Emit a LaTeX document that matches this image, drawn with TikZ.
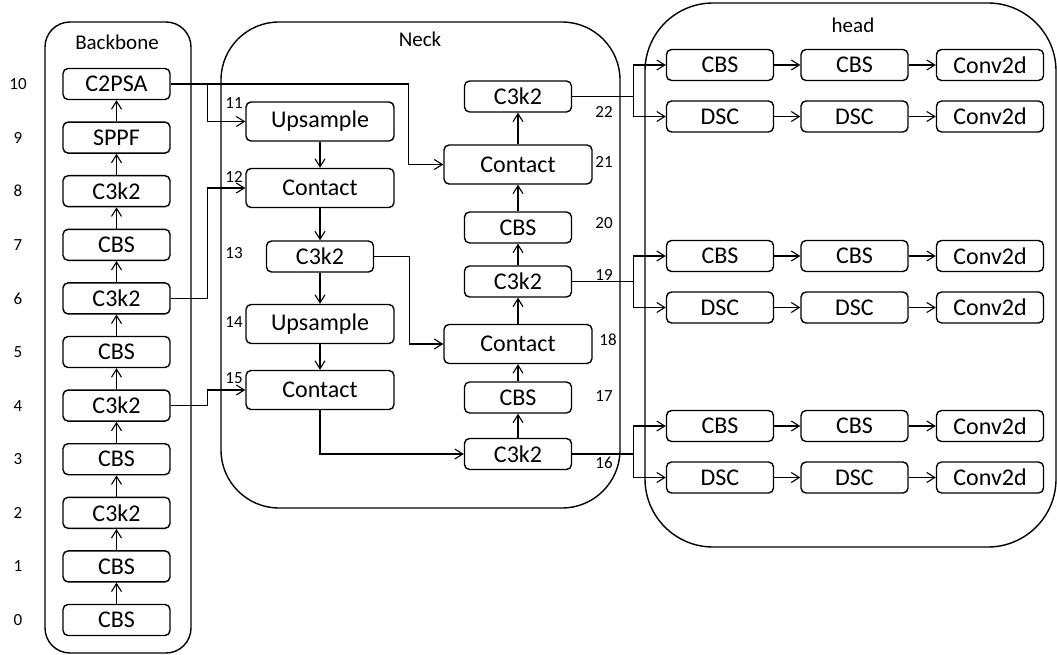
\documentclass[tikz,border=0pt]{standalone}
\usepackage{fontspec}
\setmainfont{Carlito}
\usetikzlibrary{positioning,arrows.meta}

\begin{document}
\begin{tikzpicture}[
  x=1pt, y=-1pt,
  font=\fontsize{24}{26}\selectfont,
  box/.style={draw, rounded corners=5pt, line width=1.4pt, minimum width=107pt, minimum height=31pt, inner sep=0pt},
  wide/.style={box, minimum width=148pt, minimum height=39pt},
  proc/.style={draw, line width=1.4pt, inner sep=0pt},
  arr/.style={-{Straight Barb[length=8pt,width=10pt,line width=1.1pt]}, line width=1.3pt},
  lin/.style={line width=1.3pt},
  num/.style={font=\fontsize{17}{18}\selectfont},
  ttl/.style={font=\fontsize{21}{22}\selectfont}
]
\useasboundingbox (0,0) rectangle (1057,655);
% Containers
\node[proc, rounded corners=25pt, minimum width=146pt, minimum height=631pt] (bb) at (118,337.5) {};
\node[proc, rounded corners=58pt, minimum width=399pt, minimum height=486pt] (nk) at (420.5,265) {};
\node[proc, rounded corners=68pt, minimum width=411pt, minimum height=544pt] (hd) at (850.5,275) {};
\node[ttl] (bbt) at (117,42) {Backbone};
\node[ttl] (nkt) at (420,39) {Neck};
\node[ttl] (hdt) at (853,25) {head};
% Backbone
\node[box] (b0)  at (116.5,620)   {CBS};
\node[box] (b1)  at (116.5,566.4) {CBS};
\node[box] (b2)  at (116.5,512.8) {C3k2};
\node[box] (b3)  at (116.5,459.2) {CBS};
\node[box] (b4)  at (116.5,405.6) {C3k2};
\node[box] (b5)  at (116.5,352)   {CBS};
\node[box] (b6)  at (116.5,298.4) {C3k2};
\node[box] (b7)  at (116.5,244.8) {CBS};
\node[box] (b8)  at (116.5,191.2) {C3k2};
\node[box] (b9)  at (116.5,137.6) {SPPF};
\node[box] (b10) at (116.5,84)    {C2PSA};
\node[num] (l0)  at (18,620)   {0};
\node[num] (l1)  at (18,566.4) {1};
\node[num] (l2)  at (18,512.8) {2};
\node[num] (l3)  at (18,459.2) {3};
\node[num] (l4)  at (18,405.6) {4};
\node[num] (l5)  at (18,352)   {5};
\node[num] (l6)  at (18,298.4) {6};
\node[num] (l7)  at (18,244.8) {7};
\node[num] (l8)  at (18,191.2) {8};
\node[num] (l9)  at (18,137.6) {9};
\node[num] (l10) at (18,84)    {10};
\draw[arr] (b0) -- (b1);
\draw[arr] (b1) -- (b2);
\draw[arr] (b2) -- (b3);
\draw[arr] (b3) -- (b4);
\draw[arr] (b4) -- (b5);
\draw[arr] (b5) -- (b6);
\draw[arr] (b6) -- (b7);
\draw[arr] (b7) -- (b8);
\draw[arr] (b8) -- (b9);
\draw[arr] (b9) -- (b10);
% Neck
\node[wide] (n11) at (320,121.5) {Upsample};
\node[wide] (n12) at (320,188)   {Contact};
\node[box]  (n13) at (320,256.5) {C3k2};
\node[wide] (n14) at (320,324)   {Upsample};
\node[wide] (n15) at (320,390)   {Contact};
\node[box]  (n16) at (518,454)   {C3k2};
\node[box]  (n17) at (518,397.5) {CBS};
\node[wide] (n18) at (518,344)   {Contact};
\node[box]  (n19) at (518,281.5) {C3k2};
\node[box]  (n20) at (518,227.5) {CBS};
\node[wide] (n21) at (518,164.5) {Contact};
\node[box]  (n22) at (518,96.5)  {C3k2};
\node[num] (l11) at (234,103) {11};
\node[num] (l12) at (234,177) {12};
\node[num] (l13) at (234,253) {13};
\node[num] (l14) at (234,322) {14};
\node[num] (l15) at (234,378) {15};
\node[num] (l22) at (604,112) {22};
\node[num] (l21) at (604,162) {21};
\node[num] (l20) at (604,223) {20};
\node[num] (l19) at (604,275) {19};
\node[num] (l18) at (608,340) {18};
\node[num] (l17) at (604,396) {17};
\node[num] (l16) at (604,463) {16};
\draw[arr] (b10.east) -- ++(238,0) |- (n21.west);
\draw[arr] (b10.east) -- ++(37,0) |- (n11.west);
\draw[arr] (b6.east) -- ++(37,0) |- (n12.west);
\draw[arr] (b4.east) -- ++(37,0) |- (n15.west);
\draw[arr] (n11) -- (n12);
\draw[arr] (n12) -- (n13);
\draw[arr] (n13) -- (n14);
\draw[arr] (n14) -- (n15);
\draw[arr] (n13.east) -- ++(35,0) |- (n18.west);
\draw[arr] (n15.south) |- (n16.west);
\draw[arr] (n16) -- (n17);
\draw[arr] (n17) -- (n18);
\draw[arr] (n18) -- (n19);
\draw[arr] (n19) -- (n20);
\draw[arr] (n20) -- (n21);
\draw[arr] (n21) -- (n22);
% Head
\node[box] (c1a) at (720,65)    {CBS};
\node[box] (c1b) at (854.5,65)  {CBS};
\node[box] (c1c) at (990,65)    {Conv2d};
\node[box] (d1a) at (720,116.5)   {DSC};
\node[box] (d1b) at (854.5,116.5) {DSC};
\node[box] (d1c) at (990,116.5)   {Conv2d};
\node[box] (c2a) at (720,256)    {CBS};
\node[box] (c2b) at (854.5,256)  {CBS};
\node[box] (c2c) at (990,256)    {Conv2d};
\node[box] (d2a) at (720,307.5)   {DSC};
\node[box] (d2b) at (854.5,307.5) {DSC};
\node[box] (d2c) at (990,307.5)   {Conv2d};
\node[box] (c3a) at (720,426)    {CBS};
\node[box] (c3b) at (854.5,426)  {CBS};
\node[box] (c3c) at (990,426)    {Conv2d};
\node[box] (d3a) at (720,477.5)   {DSC};
\node[box] (d3b) at (854.5,477.5) {DSC};
\node[box] (d3c) at (990,477.5)   {Conv2d};
\draw[lin] (n22.east) -- ++(61,0) coordinate (s22);
\draw[lin] (n19.east) -- ++(61,0) coordinate (s19);
\draw[lin] (n16.east) -- ++(61,0) coordinate (s16);
\draw[arr] (s22) |- (c1a.west);
\draw[arr] (s22) |- (d1a.west);
\draw[arr] (s19) |- (c2a.west);
\draw[arr] (s19) |- (d2a.west);
\draw[arr] (s16) |- (c3a.west);
\draw[arr] (s16) |- (d3a.west);
\draw[arr] (c1a) -- (c1b);
\draw[arr] (c1b) -- (c1c);
\draw[arr] (d1a) -- (d1b);
\draw[arr] (d1b) -- (d1c);
\draw[arr] (c2a) -- (c2b);
\draw[arr] (c2b) -- (c2c);
\draw[arr] (d2a) -- (d2b);
\draw[arr] (d2b) -- (d2c);
\draw[arr] (c3a) -- (c3b);
\draw[arr] (c3b) -- (c3c);
\draw[arr] (d3a) -- (d3b);
\draw[arr] (d3b) -- (d3c);
\end{tikzpicture}
\end{document}
